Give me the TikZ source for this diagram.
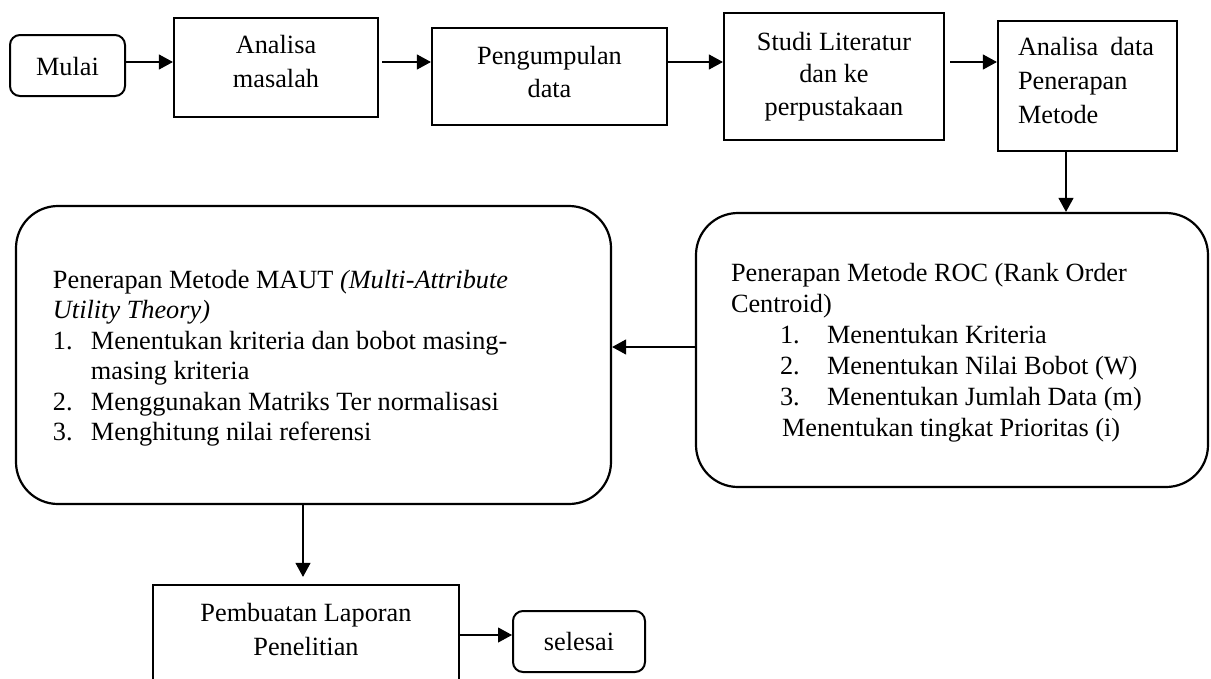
\documentclass[tikz,border=0pt]{standalone}
\usepackage{fontspec}
\setmainfont{Liberation Serif}
\usetikzlibrary{arrows.meta}
% #1 width, #2 height, #3 top-to-first-baseline, #4 baselineskip, #5 alignment, #6 content
\newcommand\bxt[6]{\parbox[c][#2][t]{#1}{\fontsize{26.3pt}{#4}\selectfont#5\rule{0pt}{#3}#6}}
\tikzset{
  sq/.style={draw, line width=2.2pt, inner sep=0pt, rectangle},
  rnd/.style={draw, line width=2pt, inner sep=0pt, rounded corners=10pt},
  bigr/.style={draw, line width=2.2pt, inner sep=0pt, rounded corners=42pt},
  arr/.style={line width=1.1pt, -{Triangle[length=14pt,width=15pt]}}
}
\begin{document}
\begin{tikzpicture}[x=1pt,y=-1pt]
\clip (0,0) rectangle (1211,678);
\fill[white] (0,0) rectangle (1211,678);

\node[rnd] (mulai) at (67.5,65.5) {\bxt{115pt}{61pt}{40pt}{31pt}{\centering}{Mulai}};
\node[sq] (am) at (276,67.5) {\bxt{204pt}{99pt}{35pt}{34pt}{\centering}{Analisa\\masalah}};
\node[sq] (peng) at (549.5,76.5) {\bxt{235pt}{97pt}{36pt}{33pt}{\centering}{Pengumpulan\\data}};
\node[sq] (studi) at (834,76.5) {\bxt{220pt}{127pt}{37pt}{32.5pt}{\centering}{Studi Literatur\\dan ke\\perpustakaan}};
\node[sq] (ad) at (1087.5,86) {\bxt{179pt}{130pt}{34pt}{34pt}{\raggedright}{\hspace*{20pt}Analisa\hskip 12pt data\\\hspace*{20pt}Penerapan\\\hspace*{20pt}Metode}};

\node[bigr] (roc) at (952,350) {\bxt{512pt}{274pt}{68pt}{31pt}{\raggedright}{%
\hspace*{35pt}Penerapan Metode ROC (Rank Order\\
\hspace*{35pt}Centroid)\\
\hspace*{84pt}\makebox[47pt][l]{1.}Menentukan Kriteria\\
\hspace*{84pt}\makebox[47pt][l]{2.}Menentukan Nilai Bobot (W)\\
\hspace*{84pt}\makebox[47pt][l]{3.}Menentukan Jumlah Data (m)\\
\hspace*{86pt}Menentukan tingkat Prioritas (i)}};

\node[bigr] (maut) at (313.5,355) {\bxt{595pt}{298pt}{82pt}{30.5pt}{\raggedright}{%
\hspace*{37pt}Penerapan Metode MAUT \textit{(Multi-Attribute}\\
\hspace*{37pt}\textit{Utility Theory)}\\
\hspace*{37pt}\makebox[38pt][l]{1.}Menentukan kriteria dan bobot masing-\\
\hspace*{75pt}masing kriteria\\
\hspace*{37pt}\makebox[38pt][l]{2.}Menggunakan Matriks Ter normalisasi\\
\hspace*{37pt}\makebox[38pt][l]{3.}Menghitung nilai referensi}};

\node[sq] (pl) at (306,637.5) {\bxt{306pt}{105pt}{36pt}{34pt}{\centering}{Pembuatan Laporan\\Penelitian}};
\node[rnd] (sel) at (579,641.5) {\bxt{132pt}{61pt}{39pt}{31pt}{\centering}{selesai}};

\draw[arr] (mulai.east |- 0,62) -- (am.west |- 0,62);
\draw[arr, shorten <=3pt] (am.east |- 0,62) -- (peng.west |- 0,62);
\draw[arr] (peng.east |- 0,62) -- (studi.west |- 0,62);
\draw[arr, shorten <=5pt] (studi.east |- 0,62) -- (ad.west |- 0,62);
\draw[arr] (ad.south -| 1066,0) -- (roc.north -| 1066,0);
\draw[arr] (roc.west |- 0,347) -- (maut.east |- 0,347);
\draw[arr, shorten >=7pt] (maut.south -| 303,0) -- (pl.north -| 303,0);
\draw[arr] (pl.east |- 0,635) -- (sel.west |- 0,635);
\end{tikzpicture}
\end{document}
